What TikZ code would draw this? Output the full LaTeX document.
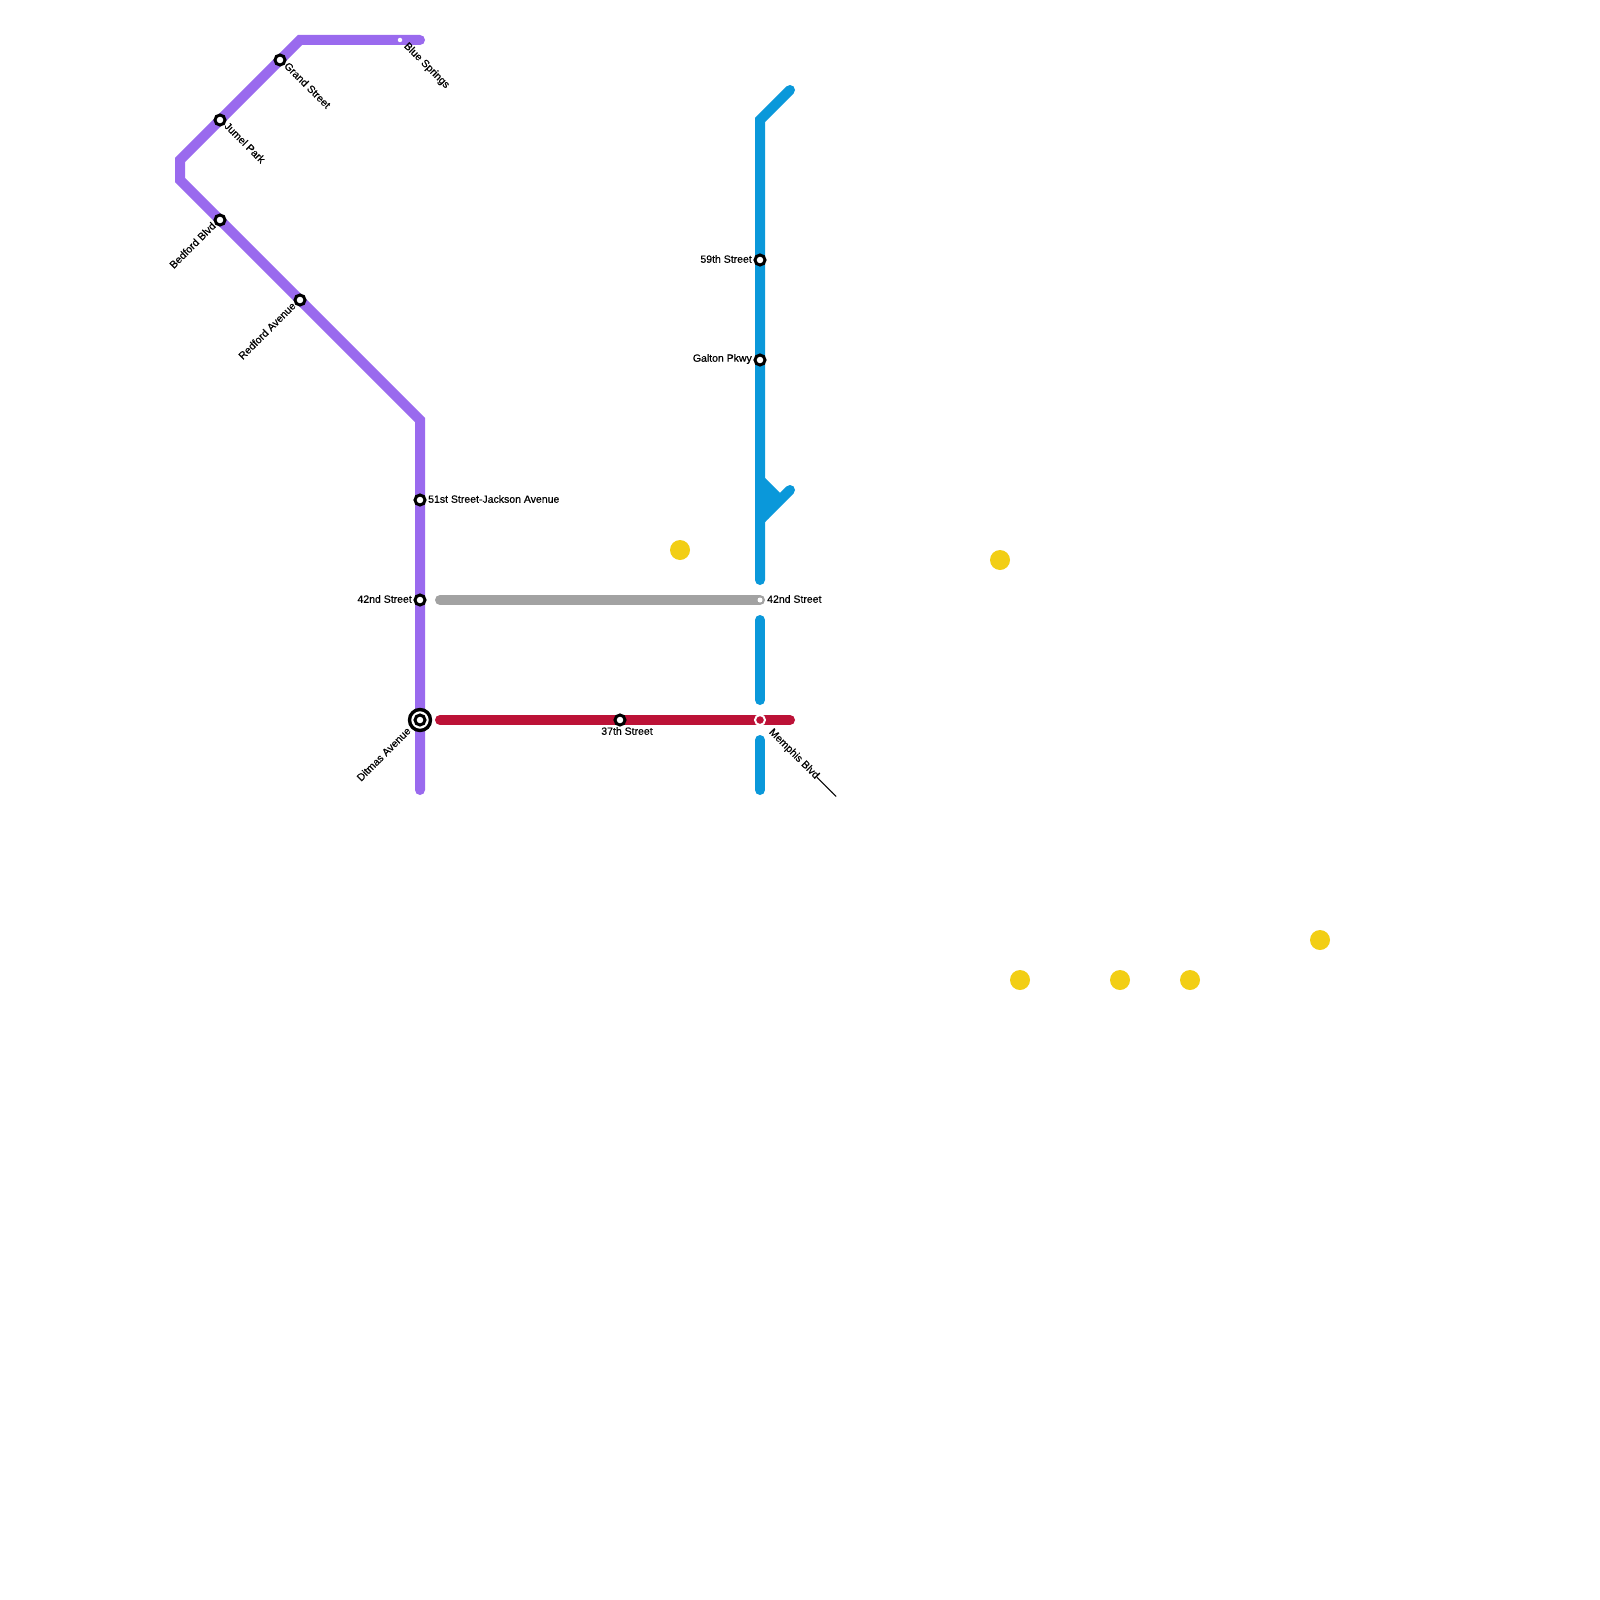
\documentclass[tikz,border=0pt]{standalone}
\usepackage{fontspec}
\setmainfont{Liberation Sans}
\definecolor{purp}{HTML}{9A6AEE}
\definecolor{blu}{HTML}{0A98DA}
\definecolor{gry}{HTML}{A2A2A2}
\definecolor{rd}{HTML}{BC1237}
\definecolor{yel}{HTML}{F2CE14}
\tikzset{
 route/.style={line width=10pt,line cap=round,line join=miter},
 stn/.style={circle,draw=black,fill=white,line width=3pt,minimum size=10pt,inner sep=0pt},
 dot/.style={circle,fill=white,minimum size=5pt,inner sep=0pt},
 lab/.style={inner sep=0pt,font=\fontsize{10.5}{10.5}\selectfont\addfontfeatures{FakeBold=0.5}},
 yd/.style={circle,fill=yel,minimum size=20pt,inner sep=0pt}
}
\begin{document}
\begin{tikzpicture}[x=1pt,y=-1pt]
\useasboundingbox (0,0) rectangle (1600,1600);
\coordinate (p0) at (420,40); \coordinate (p1) at (300,40); \coordinate (p2) at (180,160); \coordinate (p3) at (180,180); \coordinate (p4) at (420,420); \coordinate (p5) at (420,790);
\coordinate (b0) at (790,90); \coordinate (b1) at (760,120); \coordinate (b2) at (760,580);
\coordinate (b3) at (760,620); \coordinate (b4) at (760,700); \coordinate (b5) at (760,740); \coordinate (b6) at (760,790);
\coordinate (s0) at (790,490); \coordinate (s1) at (760,520);
\coordinate (g0) at (440,600); \coordinate (g1) at (760,600);
\coordinate (r0) at (440,720); \coordinate (r1) at (790,720);
\draw[route,purp] (p0)--(p1)--(p2)--(p3)--(p4)--(p5);
\draw[route,blu] (b0)--(b1)--(b2);
\draw[route,blu] (b3)--(b4);
\draw[route,blu] (b5)--(b6);
\draw[route,blu,line cap=butt] (s1)--(765,515);
\draw[route,blu] (765,515)--(s0);
\fill[blu] (760,473)--(765,478)--(780,493)--(765,522)--(760,522)--cycle;
\draw[route,gry] (g0)--(g1);
\draw[route,rd] (r0)--(r1);
\node[yd] (y1) at (680,550) {};
\node[yd] (y2) at (1000,560) {};
\node[yd] (y3) at (1020,980) {};
\node[yd] (y4) at (1120,980) {};
\node[yd] (y5) at (1190,980) {};
\node[yd] (y6) at (1320,940) {};
\node[dot,minimum size=4.5pt] (sBlue) at (400,40) {};
\node[stn] (sGrand) at (280,60) {};
\node[stn] (sJumel) at (220,120) {};
\node[stn] (sBed) at (220,220) {};
\node[stn] (sRed) at (300,300) {};
\node[stn] (s51) at (420,500) {};
\node[stn] (s42) at (420,600) {};
\node[circle,draw=black,fill=white,line width=3.4pt,minimum size=21pt,inner sep=0pt] (sDitO) at (420,720) {};
\node[stn] (sDit) at (420,720) {};
\node[stn] (s37) at (620,720) {};
\node[stn] (s59) at (760,260) {};
\node[stn] (sGal) at (760,360) {};
\node[dot] (s42b) at (760,600) {};
\node[circle,draw=white,fill=rd,line width=2pt,minimum size=10pt,inner sep=0pt] (sMem) at (760,720) {};
\node[lab,anchor=north west,rotate=-45] (l1) at (409,41) {Blue Springs};
\node[lab,anchor=north west,rotate=-45] (l2) at (289,61) {Grand Street};
\node[lab,anchor=north west,rotate=-45] (l3) at (229,121) {Jumel Park};
\node[lab,anchor=north east,rotate=45] (l4) at (211,221) {Bedford Blvd};
\node[lab,anchor=north east,rotate=45] (l5) at (291,301) {Redford Avenue};
\node[lab,anchor=west] (l6) at (428,499) {51st Street-Jackson Avenue};
\node[lab,anchor=east] (l7) at (412,599) {42nd Street};
\node[lab,anchor=north east,rotate=45] (l8) at (406,726) {Ditmas Avenue};
\node[lab,anchor=north] (l9) at (627,727) {37th Street};
\node[lab,anchor=east] (l10) at (752,259) {59th Street};
\node[lab,anchor=east] (l11) at (752,359) {Galton Pkwy};
\node[lab,anchor=west] (l12) at (767,599) {42nd Street};
\node[lab,anchor=north west,rotate=-45] (l13) at (774,727) {Memphis Blvd--------};
\end{tikzpicture}
\end{document}
